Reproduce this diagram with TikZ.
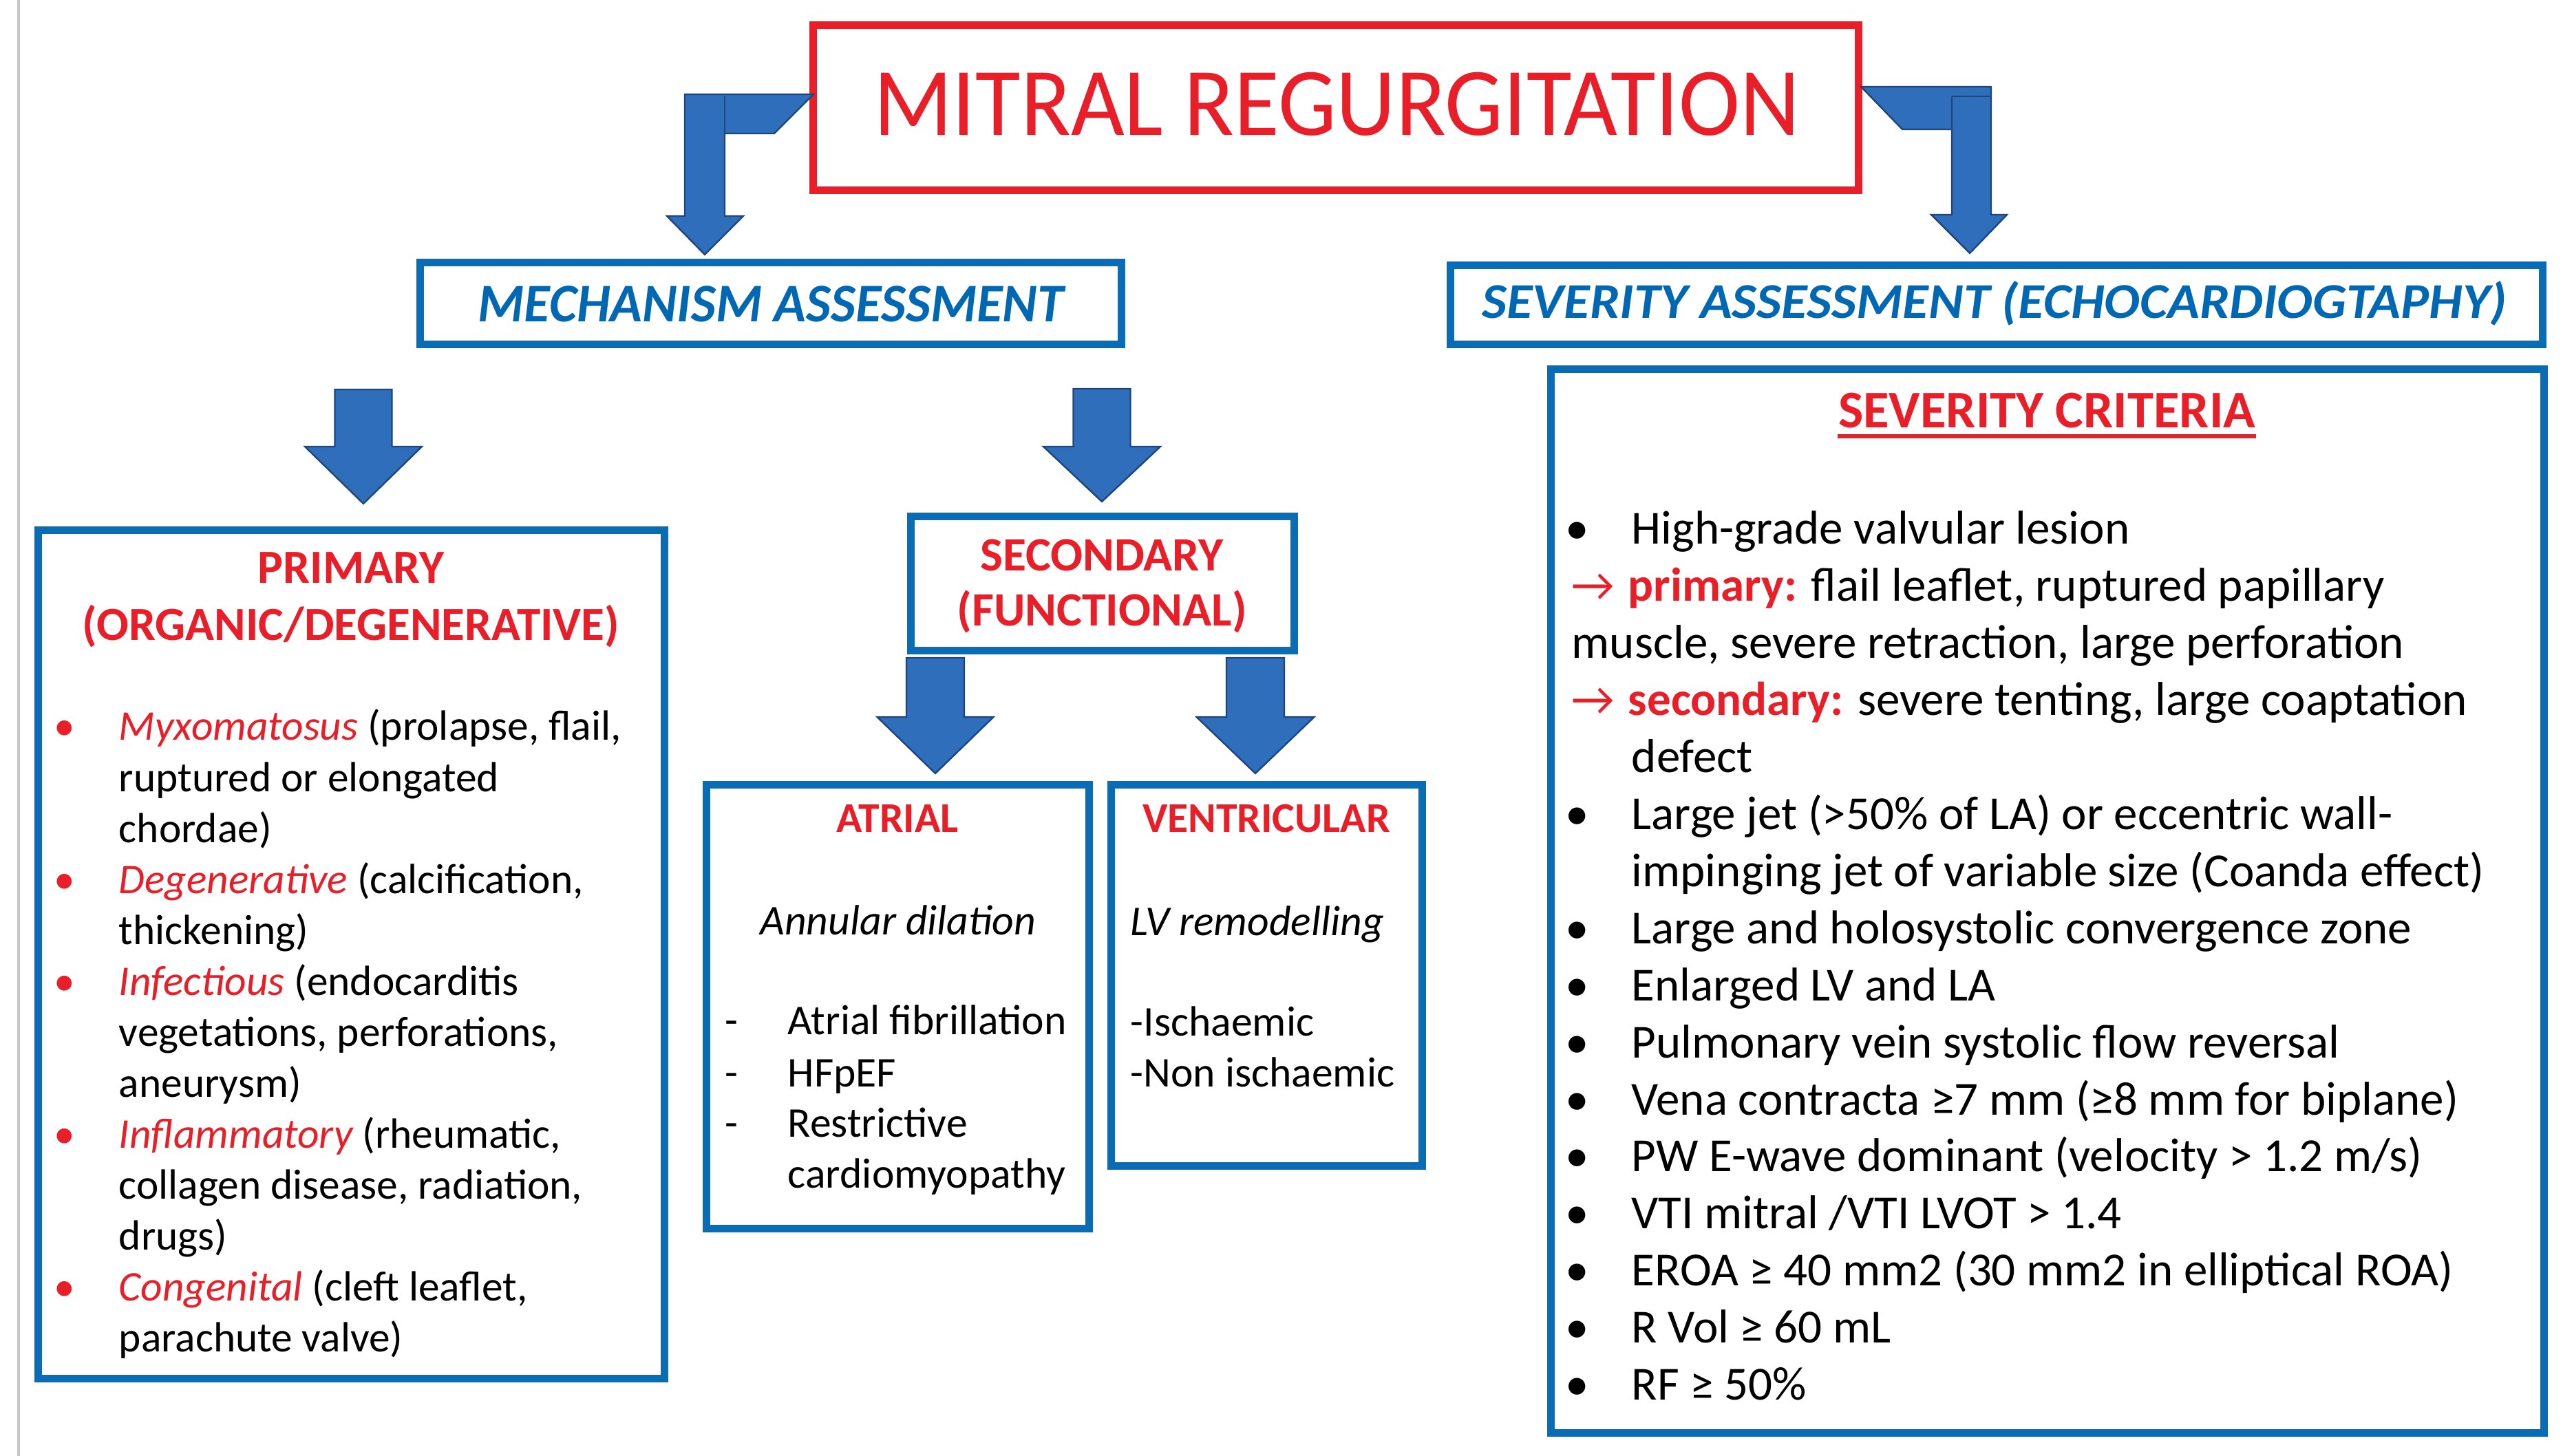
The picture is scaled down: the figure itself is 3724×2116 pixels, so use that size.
\documentclass[tikz,border=0pt]{standalone}
\usepackage{fontspec}
\setmainfont{Carlito}
\definecolor{tred}{RGB}{232,30,40}
\definecolor{bblue}{RGB}{10,108,180}
\definecolor{ttblue}{RGB}{0,104,178}
\definecolor{afill}{RGB}{46,110,186}
\definecolor{aline}{RGB}{30,70,125}
\newcommand\fTitle{\fontsize{35.2pt}{40pt}\selectfont}
\newcommand\fMech{\fontsize{19.8pt}{24pt}\selectfont\bfseries\itshape}
\newcommand\fSevA{\fontsize{18.2pt}{22pt}\selectfont\bfseries\itshape}
\newcommand\fCritH{\fontsize{19.2pt}{22pt}\selectfont\bfseries}
\newcommand\fCrit{\fontsize{17.25pt}{20pt}\selectfont}
\newcommand\fPrimH{\fontsize{17.3pt}{20pt}\selectfont\bfseries}
\newcommand\fPrim{\fontsize{15.35pt}{18pt}\selectfont}
\newcommand\fSecH{\fontsize{17.4pt}{20pt}\selectfont\bfseries}
\newcommand\fAtrH{\fontsize{15.4pt}{18pt}\selectfont\bfseries}
\newcommand\fAtr{\fontsize{15.4pt}{18pt}\selectfont}
\newcommand\rit[1]{\textcolor{tred}{\itshape #1}}
\newcommand\rbf[1]{\textcolor{tred}{\bfseries #1}}
\begin{document}
\begin{tikzpicture}[x=0.25pt,y=-0.25pt,
  box/.style={draw=bblue, line width=2.75pt, inner sep=0pt, fill=white},
  redbox/.style={draw=tred, line width=2.75pt, inner sep=0pt, fill=white},
  barrow/.style={fill=afill, draw=aline, line width=0.6pt, line join=miter},
  tl/.style={inner sep=0pt, anchor=base west},
  tc/.style={inner sep=0pt, anchor=base},
  crit/.style={tl, font=\fCrit},
  prim/.style={tl, font=\fPrim},
  atr/.style={tl, font=\fAtr}]
\useasboundingbox (0,0) rectangle (3724,2116);
\fill[white] (0,0) rectangle (3724,2116);
\draw[black!22, line width=1pt] (27,0) -- (27,2116);

% ---------- boxes ----------
\node[redbox, minimum width=1519*0.25pt, minimum height=240*0.25pt] (title) at (1940.5,157) {};
\node[box, minimum width=1019*0.25pt, minimum height=119*0.25pt] (mech) at (1119.5,441.5) {};
\node[box, minimum width=1587*0.25pt, minimum height=115*0.25pt] (seva) at (2900.5,443) {};
\node[box, minimum width=1443*0.25pt, minimum height=1545*0.25pt] (crit) at (2974.5,1309.5) {};
\node[box, minimum width=910*0.25pt, minimum height=1232*0.25pt] (prim) at (510,1387) {};
\node[box, minimum width=557*0.25pt, minimum height=195*0.25pt] (sec) at (1601.5,848.5) {};
\node[box, minimum width=556*0.25pt, minimum height=645*0.25pt] (atr) at (1304,1462.5) {};
\node[box, minimum width=452*0.25pt, minimum height=554*0.25pt] (ven) at (1840,1417) {};

% ---------- block arrows ----------
\draw[barrow] (995,137) -- (1182,137) -- (1125,194) -- (1053,194) -- (1053,314) -- (1080,314)
  -- (1024,370) -- (969,314) -- (995,314) -- cycle;
\draw[aline, line width=0.6pt] (1053,140) -- (1053,194);
\draw[barrow] (2704,126) -- (2893,126) -- (2893,312) -- (2916,312) -- (2862,368) -- (2806,312)
  -- (2836,312) -- (2836,188) -- (2764,188) -- cycle;
\draw[aline, line width=0.6pt] (2836,140) -- (2893,140);
\draw[aline, line width=0.6pt] (2836,140) -- (2836,188);
\newcommand\darrow[6]{% x, top, headtop, tip, shaft half, head half
  \draw[barrow] ({#1-#5},#2) -- ({#1+#5},#2) -- ({#1+#5},#3) -- ({#1+#6},#3) -- (#1,#4)
   -- ({#1-#6},#3) -- ({#1-#5},#3) -- cycle;}
\darrow{528}{566}{649}{732}{41.5}{85}
\darrow{1601}{565}{649}{729}{41.5}{85}
\darrow{1359}{956}{1042}{1124}{42}{84.5}
\darrow{1824}{956}{1042}{1124}{42}{85.5}

% ---------- titles ----------
\node[tc, text=tred, font=\fTitle] (titleT) at (1942,197) {\scalebox{0.953}[1]{MITRAL REGURGITATION}};
\node[tc, text=ttblue, font=\fMech] (mechT) at (1120,468) {\scalebox{0.973}[1]{MECHANISM ASSESSMENT}};
\node[tc, text=ttblue, font=\fSevA] (sevaT) at (2898,463) {\scalebox{1.06}[1]{SEVERITY ASSESSMENT (ECHOCARDIOGTAPHY)}};

% ---------- severity criteria ----------
\node[tc, text=tred, font=\fCritH] (critT) at (2974,622) {SEVERITY CRITERIA};
\draw[tred, line width=1.6pt] ([yshift=-12*0.25pt]critT.base west) -- ([yshift=-12*0.25pt]critT.base east);
\foreach \i/\y in {0/791,5/1205.5,7/1371.3,8/1454.2,9/1537.1,10/1620,11/1702.9,12/1785.8,13/1868.7,14/1951.6,15/2034.5}
  \node[tc, font=\fCrit] (cb\i) at (2292,\y) {•};
\node[crit] (c0) at (2370,791) {High-grade valvular lesion};
\node[crit] (c1a) at (2283,873.9) {\textcolor{tred}{→}};
\node[crit] (c1) at (2365,873.9) {\rbf{primary:} flail leaflet, ruptured papillary};
\node[crit] (c2) at (2283,956.8) {muscle, severe retraction, large perforation};
\node[crit] (c3a) at (2283,1039.7) {\textcolor{tred}{→}};
\node[crit] (c3) at (2365,1039.7) {\rbf{secondary:} severe tenting, large coaptation};
\node[crit] (c4) at (2370,1122.6) {defect};
\node[crit] (c5) at (2370,1205.5) {Large jet (>50\% of LA) or eccentric wall-};
\node[crit] (c6) at (2370,1288.4) {impinging jet of variable size (Coanda effect)};
\node[crit] (c7) at (2370,1371.3) {Large and holosystolic convergence zone};
\node[crit] (c8) at (2370,1454.2) {Enlarged LV and LA};
\node[crit] (c9) at (2370,1537.1) {Pulmonary vein systolic flow reversal};
\node[crit] (c10) at (2370,1620) {Vena contracta ≥7 mm (≥8 mm for biplane)};
\node[crit] (c11) at (2370,1702.9) {PW E-wave dominant (velocity > 1.2 m/s)};
\node[crit] (c12) at (2370,1785.8) {VTI mitral /VTI LVOT > 1.4};
\node[crit] (c13) at (2370,1868.7) {EROA ≥ 40 mm2 (30 mm2 in elliptical ROA)};
\node[crit] (c14) at (2370,1951.6) {R Vol ≥ 60 mL};
\node[crit] (c15) at (2370,2034.5) {RF ≥ 50\%};

% ---------- primary ----------
\node[tc, text=tred, font=\fPrimH] (primT1) at (510,848) {PRIMARY};
\node[tc, text=tred, font=\fPrimH] (primT2) at (510,931) {(ORGANIC/DEGENERATIVE)};
\foreach \i/\y in {0/1076,3/1298,5/1446,8/1668,11/1890}
  \node[tc, text=tred, font=\fPrim] (pb\i) at (94,\y) {•};
\node[prim] (p0) at (172,1076) {\rit{Myxomatosus} (prolapse, flail,};
\node[prim] (p1) at (172,1150) {ruptured or elongated};
\node[prim] (p2) at (172,1224) {chordae)};
\node[prim] (p3) at (172,1298) {\rit{Degenerative} (calcification,};
\node[prim] (p4) at (172,1372) {thickening)};
\node[prim] (p5) at (172,1446) {\rit{Infectious} (endocarditis};
\node[prim] (p6) at (172,1520) {vegetations, perforations,};
\node[prim] (p7) at (172,1594) {aneurysm)};
\node[prim] (p8) at (172,1668) {\rit{Inflammatory} (rheumatic,};
\node[prim] (p9) at (172,1742) {collagen disease, radiation,};
\node[prim] (p10) at (172,1816) {drugs)};
\node[prim] (p11) at (172,1890) {\rit{Congenital} (cleft leaflet,};
\node[prim] (p12) at (172,1964) {parachute valve)};

% ---------- secondary ----------
\node[tc, text=tred, font=\fSecH] (secT1) at (1601,830) {SECONDARY};
\node[tc, text=tred, font=\fSecH] (secT2) at (1601,910) {(FUNCTIONAL)};

% ---------- atrial ----------
\node[tc, text=tred, font=\fAtrH] (atrT) at (1304,1209) {ATRIAL};
\node[tc, font=\fAtr\itshape] (atrS) at (1305,1358) {Annular dilation};
\foreach \i/\y in {1/1503,2/1579,3/1652}
  \node[tc, font=\fAtr] (ad\i) at (1063,\y) {-};
\node[atr] (a1) at (1144,1503) {Atrial fibrillation};
\node[atr] (a2) at (1144,1579) {HFpEF};
\node[atr] (a3) at (1144,1652) {Restrictive};
\node[atr] (a4) at (1144,1726) {cardiomyopathy};

% ---------- ventricular ----------
\node[tc, text=tred, font=\fAtrH] (venT) at (1840,1209) {VENTRICULAR};
\node[atr, font=\fAtr\itshape] (venS) at (1642,1359) {LV remodelling};
\node[atr] (v1) at (1642,1505) {-Ischaemic};
\node[atr] (v2) at (1642,1579) {-Non ischaemic};
\end{tikzpicture}
\end{document}
